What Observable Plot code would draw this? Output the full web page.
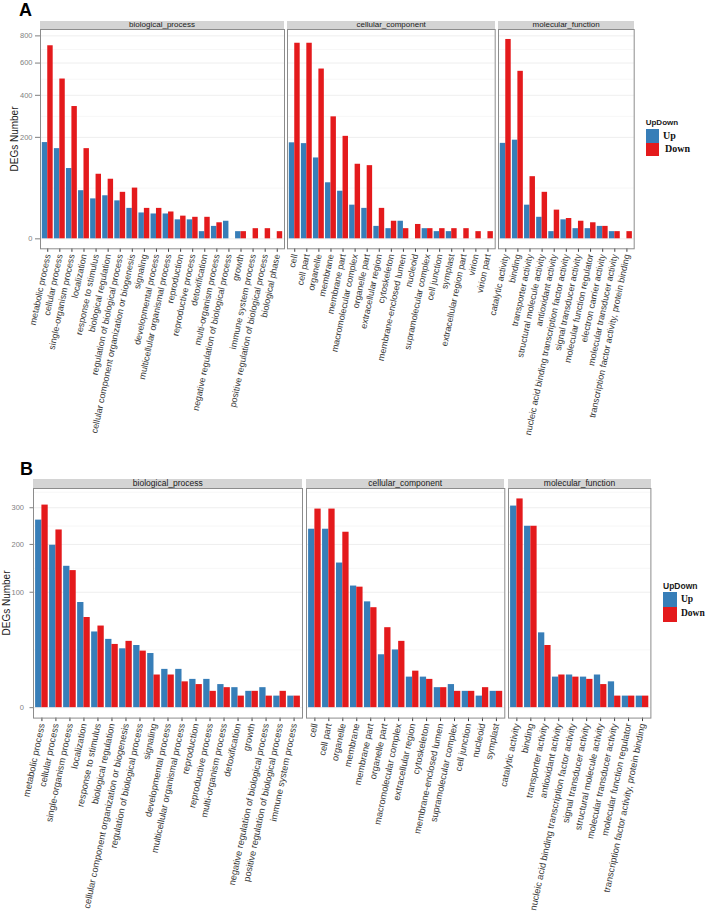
<!DOCTYPE html>
<html><head><meta charset="utf-8">
<script src="https://cdn.jsdelivr.net/npm/d3@7"></script>
<script src="https://cdn.jsdelivr.net/npm/@observablehq/plot@0.6"></script>
<style>
body{margin:0;background:#fff;}
#root{position:relative;width:708px;height:915px;overflow:hidden;font-family:"Liberation Sans",Arial,sans-serif;background:#fff;}
.strip{position:absolute;background:#d4d4d4;color:#1a1a1a;text-align:center;white-space:nowrap;overflow:hidden;}
.lbl{position:absolute;white-space:nowrap;line-height:1;}
.ytitle{position:absolute;white-space:nowrap;line-height:1;transform:translate(-50%,-50%) rotate(-90deg);color:#1a1a1a;}
.key{position:absolute;}
.ktxt{position:absolute;font-family:"Liberation Serif","Times New Roman",serif;font-weight:bold;color:#111;white-space:nowrap;line-height:1;}
</style></head><body><div id="root"></div>
<script>
// ---------------- DATA ----------------
const facetNames = ["biological_process", "cellular_component", "molecular_function"];
const updownLevels = ["Up", "Down"];

// Panel A
const aBioCats = ["metabolic process","cellular process","single-organism process","localization","response to stimulus","biological regulation","regulation of biological process","cellular component organization or biogenesis","signaling","developmental process","multicellular organismal process","reproduction","reproductive process","detoxification","multi-organism process","negative regulation of biological process","growth","immune system process","positive regulation of biological process","biological phase"];
const aBioUp   = [180,158,96,45,31,36,28,18,13,12,12,7,7,1,3,6,1,0,0,0];
const aBioDown = [724,496,340,158,81,69,42,50,18,18,14,10,9,9,5,0,1,2,2,1];

const aCcCats = ["cell","cell part","organelle","membrane","membrane part","macromolecular complex","organelle part","extracellular region","cytoskeleton","membrane-enclosed lumen","nucleoid","supramolecular complex","cell junction","symplast","extracellular region part","virion","virion part"];
const aCcUp   = [179,176,127,61,44,22,18,3,2,6,0,2,1,1,0,0,0];
const aCcDown = [743,743,560,289,204,108,104,18,6,2,4,2,2,2,2,1,1];

const aMfCats = ["catalytic activity","binding","transporter activity","structural molecule activity","antioxidant activity","nucleic acid binding transcription factor activity","signal transducer activity","molecular function regulator","electron carrier activity","molecular transducer activity","transcription factor activity, protein binding"];
const aMfUp   = [177,189,22,9,1,7,2,2,3,1,0];
const aMfDown = [772,545,75,42,16,8,6,5,3,1,1];

const aTicks = [0,200,400,600,800];

// Panel B
const bBioCats = ["metabolic process","cellular process","single-organism process","localization","response to stimulus","biological regulation","cellular component organization or biogenesis","regulation of biological process","signaling","developmental process","multicellular organismal process","reproduction","reproductive process","multi-organism process","detoxification","growth","negative regulation of biological process","positive regulation of biological process","immune system process"];
const bBioUp   = [264,198,150,83,43,35,26,29,22,11,11,6,6,4,3,2,3,1,1];
const bBioDown = [308,237,141,61,50,30,33,24,8,8,5,4,2,3,1,2,1,2,1];

const bCcCats = ["cell","cell part","organelle","membrane","membrane part","organelle part","macromolecular complex","extracellular region","cytoskeleton","membrane-enclosed lumen","supramolecular complex","cell junction","nucleoid","symplast"];
const bCcUp   = [239,239,157,111,84,21,25,7,7,3,4,2,1,2];
const bCcDown = [296,296,231,109,75,48,33,10,6,3,2,2,3,2];

const bMfCats = ["catalytic activity","binding","transporter activity","antioxidant activity","nucleic acid binding transcription factor activity","signal transducer activity","structural molecule activity","molecular transducer activity","molecular function regulator","transcription factor activity, protein binding"];
const bMfUp   = [305,247,42,7,8,7,8,5,1,1];
const bMfDown = [327,247,29,8,7,6,4,1,1,1];

const bTicks = [0,100,200,300];

// ---------------- STYLE ----------------
const COLORS = {Up: "#377EB8", Down: "#E41A1C"};
const root = document.getElementById("root");

function minorBreaks(ticks, top) {
  const out = [];
  for (let i = 0; i < ticks.length; i++) {
    const a = ticks[i];
    const b = i + 1 < ticks.length ? ticks[i + 1] : ticks[i] + (ticks[i] - ticks[i - 1]);
    const m = ((Math.sqrt(a) + Math.sqrt(b)) / 2) ** 2;
    if (m < top) out.push(m);
  }
  return out;
}

function drawFacet(cfg) {
  const {cats, up, down, left, top, w, h, ticks, yMax, showY, xFont, yTickSize, yTickPad, stripH, stripFont, title} = cfg;
  const n = cats.length;
  const step = w / (n + 0.2);
  const half = step * 0.9 / 2;
  const rows = cats.map((c, i) => ({cat: c, Up: up[i], Down: down[i]}));
  const s = Math.sqrt(yMax);
  const yTop = (1.05 * s) ** 2;
  const mL = 50, mR = 20, mT = 4, mB = 230;
  const chart = Plot.plot({
    width: mL + w + mR, height: mT + h + mB,
    marginLeft: mL, marginRight: mR, marginTop: mT, marginBottom: mB,
    style: {background: "transparent", overflow: "visible", fontFamily: "Liberation Sans, Arial, sans-serif", fontSize: xFont + "px", color: "#3a3a3a"},
    x: {type: "band", domain: cats, paddingInner: 0.1, paddingOuter: 0.15, align: 0.5, round: false, label: null, tickRotate: -78, tickSize: 3.5, tickPadding: 2},
    y: {type: "sqrt", domain: [-((0.05 * s) ** 2), yTop], ticks: ticks, label: null, axis: showY ? "left" : null, tickSize: yTickSize, tickPadding: yTickPad},
    marks: [
      Plot.ruleY(minorBreaks(ticks, yTop), {stroke: "#f4f4f4", strokeWidth: 0.7}),
      Plot.ruleY(ticks, {stroke: "#ececec", strokeWidth: 0.9}),
      Plot.barY(rows, {x: "cat", y: "Up", fill: COLORS.Up, insetRight: half}),
      Plot.barY(rows, {x: "cat", y: "Down", fill: COLORS.Down, insetLeft: half}),
      Plot.frame({stroke: "#8c8c8c", strokeWidth: 1})
    ]
  });
  chart.style.position = "absolute";
  chart.style.left = (left - mL) + "px";
  chart.style.top = (top - mT) + "px";
  d3.select(chart).selectAll('[aria-label^="y-axis"]').style("color", "#7f7f7f").style("font-size", "7.5px");
  root.appendChild(chart);

  const strip = document.createElement("div");
  strip.className = "strip";
  strip.style.left = left + "px";
  strip.style.top = (top - stripH) + "px";
  strip.style.width = w + "px";
  strip.style.height = stripH + "px";
  strip.style.lineHeight = stripH + "px";
  strip.style.fontSize = stripFont + "px";
  strip.textContent = title;
  root.appendChild(strip);
}

function addText(cls, txt, styles) {
  const d = document.createElement("div");
  d.className = cls;
  d.textContent = txt;
  Object.assign(d.style, styles);
  root.appendChild(d);
  return d;
}

function legend(x, y, titleFont, keyW, keyH, txtX, txtFont, downShift) {
  addText("lbl", "UpDown", {left: x + "px", top: (y - 5) + "px", fontSize: titleFont + "px", fontWeight: "bold", color: "#1a1a1a"});
  updownLevels.forEach((lv, i) => {
    const k = document.createElement("div");
    k.className = "key";
    Object.assign(k.style, {left: x + "px", top: (y + 5 + i * keyH) + "px", width: keyW + "px", height: keyH + "px", background: COLORS[lv]});
    root.appendChild(k);
    addText("ktxt", lv, {left: (txtX + (lv === "Down" ? downShift : 0)) + "px", top: (y + 5 + i * keyH + keyH / 2 - txtFont * 0.5) + "px", fontSize: txtFont + "px"});
  });
}

// ---------------- PANEL A ----------------
addText("lbl", "A", {left: "19px", top: "1px", fontSize: "18px", fontWeight: "bold", color: "#000"});
addText("ytitle", "DEGs Number", {left: "15px", top: "139px", fontSize: "10px"});
const aMax = Math.max(...aBioUp, ...aBioDown, ...aCcUp, ...aCcDown, ...aMfUp, ...aMfDown);
const aCommon = {top: 29, h: 219.3, ticks: aTicks, yMax: aMax, xFont: 9, yTickSize: 5, yTickPad: 3, stripH: 8.3, stripFont: 8};
drawFacet({...aCommon, cats: aBioCats, up: aBioUp, down: aBioDown, left: 40, w: 244, showY: true, title: facetNames[0]});
drawFacet({...aCommon, cats: aCcCats, up: aCcUp, down: aCcDown, left: 287.3, w: 207.7, showY: false, title: facetNames[1]});
drawFacet({...aCommon, cats: aMfCats, up: aMfUp, down: aMfDown, left: 498.3, w: 135.7, showY: false, title: facetNames[2]});
legend(645.7, 124, 8, 13.3, 13.5, 663, 10, 2);

// ---------------- PANEL B ----------------
addText("lbl", "B", {left: "20px", top: "460px", fontSize: "18px", fontWeight: "bold", color: "#000"});
addText("ytitle", "DEGs Number", {left: "7px", top: "603px", fontSize: "10px"});
const bMax = Math.max(...bBioUp, ...bBioDown, ...bCcUp, ...bCcDown, ...bMfUp, ...bMfDown);
const bCommon = {top: 487.7, h: 229.6, ticks: bTicks, yMax: bMax, xFont: 9.3, yTickSize: 3.5, yTickPad: 6, stripH: 9, stripFont: 8.5};
drawFacet({...bCommon, cats: bBioCats, up: bBioUp, down: bBioDown, left: 33.3, w: 269, showY: true, title: facetNames[0]});
drawFacet({...bCommon, cats: bCcCats, up: bCcUp, down: bCcDown, left: 306, w: 198.3, showY: false, title: facetNames[1]});
drawFacet({...bCommon, cats: bMfCats, up: bMfUp, down: bMfDown, left: 508.3, w: 142.4, showY: false, title: facetNames[2]});
legend(663, 587, 8.5, 14.3, 14.8, 681, 9.5, 0);
</script></body></html>
